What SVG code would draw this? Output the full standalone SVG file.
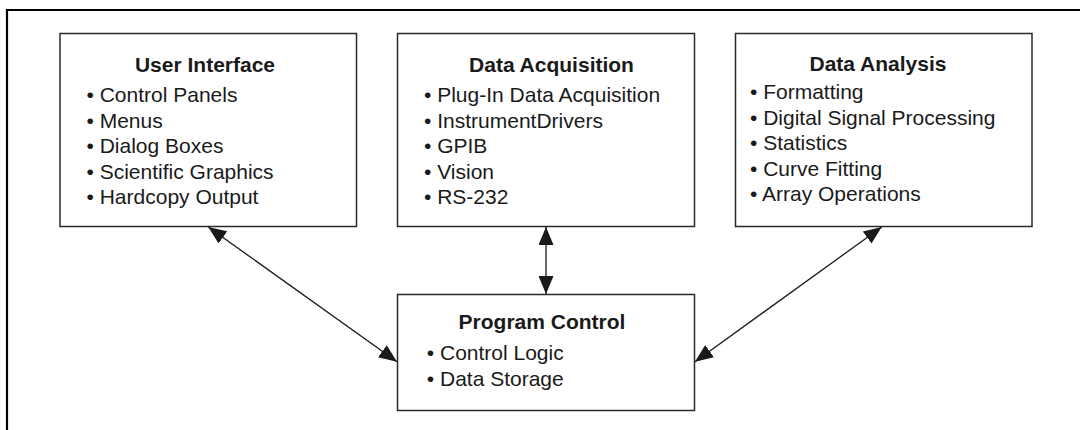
<svg xmlns="http://www.w3.org/2000/svg" width="1080" height="430" viewBox="0 0 1080 430">
<defs>
<style>
.box{fill:#fff;stroke:#2a2a2a;stroke-width:1.5}
.t{font-family:"Liberation Sans",Arial,sans-serif;font-size:21px;font-weight:bold;fill:#1a1a1a;text-anchor:middle}
.b{font-family:"Liberation Sans",Arial,sans-serif;font-size:21px;fill:#1a1a1a}
.c{stroke:#1a1a1a;stroke-width:1.3;fill:none;marker-start:url(#ah);marker-end:url(#ah)}
</style>
<marker id="ah" markerUnits="userSpaceOnUse" markerWidth="18" markerHeight="15" refX="18" refY="7.5" orient="auto-start-reverse">
<path d="M0,0 L18,7.5 L0,15 Z" fill="#1a1a1a"/>
</marker>
</defs>
<rect width="1080" height="430" fill="#fff"/>
<path d="M7,430 V10 H1080" fill="none" stroke="#000" stroke-width="2.2"/>
<g id="user-interface">
<rect class="box" x="60" y="33.5" width="296.5" height="193"/>
<text class="t" x="205" y="72">User Interface</text>
<text class="b" x="86.5" y="102.3">• Control Panels</text>
<text class="b" x="86.5" y="127.8">• Menus</text>
<text class="b" x="86.5" y="153.3">• Dialog Boxes</text>
<text class="b" x="86.5" y="178.8">• Scientific Graphics</text>
<text class="b" x="86.5" y="204.3">• Hardcopy Output</text>
</g>
<g id="data-acquisition">
<rect class="box" x="397.5" y="33.5" width="297" height="193"/>
<text class="t" x="551.5" y="72">Data Acquisition</text>
<text class="b" x="424" y="102.3">• Plug-In Data Acquisition</text>
<text class="b" x="424" y="127.8">• InstrumentDrivers</text>
<text class="b" x="424" y="153.3">• GPIB</text>
<text class="b" x="424" y="178.8">• Vision</text>
<text class="b" x="424" y="204.3">• RS-232</text>
</g>
<g id="data-analysis">
<rect class="box" x="735.5" y="33.5" width="296.5" height="193"/>
<text class="t" x="878" y="71">Data Analysis</text>
<text class="b" x="750" y="99">• Formatting</text>
<text class="b" x="750" y="124.5">• Digital Signal Processing</text>
<text class="b" x="750" y="150">• Statistics</text>
<text class="b" x="750" y="175.5">• Curve Fitting</text>
<text class="b" x="750" y="201">• Array Operations</text>
</g>
<g id="program-control">
<rect class="box" x="397.5" y="294.5" width="297" height="116"/>
<text class="t" x="542" y="328.5">Program Control</text>
<text class="b" x="426.8" y="360">• Control Logic</text>
<text class="b" x="426.8" y="385.5">• Data Storage</text>
</g>
<g id="connectors">
<line class="c" x1="208.3" y1="227" x2="397" y2="361.7"/>
<line class="c" x1="546" y1="227" x2="546" y2="294"/>
<line class="c" x1="881.7" y1="227" x2="695" y2="361.7"/>
</g>
</svg>
